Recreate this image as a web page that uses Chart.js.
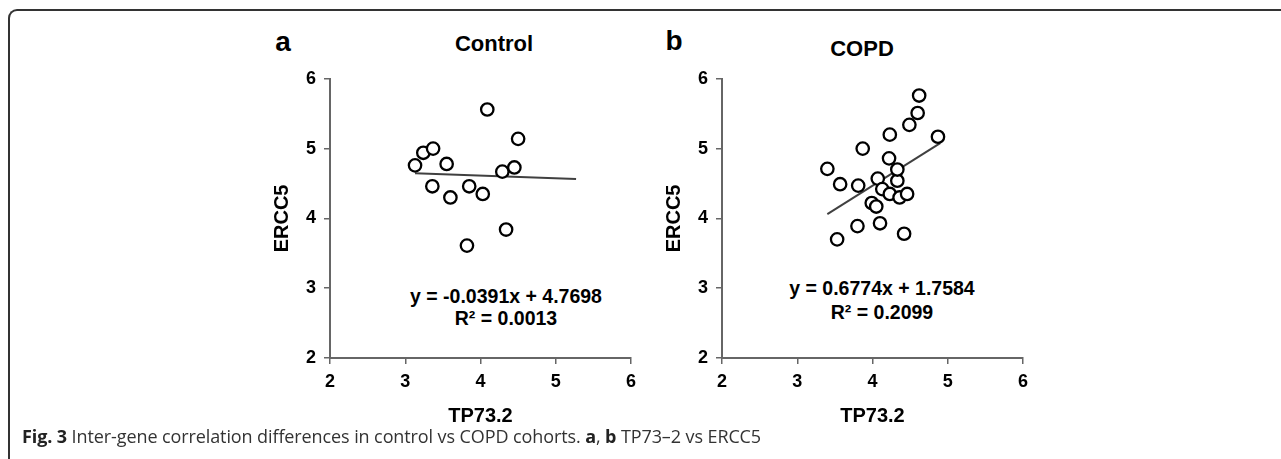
<!DOCTYPE html>
<html>
<head>
<meta charset="utf-8">
<script src="https://cdn.jsdelivr.net/npm/chart.js@4.4.1/dist/chart.umd.min.js"></script>
<style>
  html, body { margin: 0; padding: 0; background: #fff; }
  body { width: 1281px; height: 459px; position: relative; overflow: hidden; font-family: "Liberation Sans", Arial, sans-serif; }
  .frame { position: absolute; left: 8px; top: 9px; width: 1290px; height: 470px;
           border-top: 2px solid #333; border-left: 2px solid #333; border-top-left-radius: 9px; }
  canvas { position: absolute; }
  .t { position: absolute; transform: translate(-50%, -50%); white-space: nowrap; color: #000; font-weight: bold; }
  .letter { font-size: 28px; }
  .ptitle { font-size: 22px; }
  .eq { font-size: 19.5px; }
  .caption { position: absolute; left: 22px; top: 424px; font-family: "Open Sans", sans-serif; font-size: 18px; color: #333; white-space: nowrap; letter-spacing: -0.1px; }
  .caption b { color: #222; }
</style>
</head>
<body>
<div class="frame"></div>

<div class="t letter" style="left:283px; top:42px;">a</div>
<div class="t ptitle" style="left:494px; top:44px;">Control</div>
<div class="t letter" style="left:674px; top:41px;">b</div>
<div class="t ptitle" style="left:862px; top:49px;">COPD</div>

<div class="t eq" style="left:506px; top:296px;">y = -0.0391x + 4.7698</div>
<div class="t eq" style="left:506px; top:318px;">R² = 0.0013</div>
<div class="t eq" style="left:882px; top:288px;">y = 0.6774x + 1.7584</div>
<div class="t eq" style="left:882px; top:312px;">R² = 0.2099</div>

<canvas id="c1" width="420" height="370" style="left:230px; top:60px;"></canvas>
<canvas id="c2" width="420" height="370" style="left:622px; top:60px;"></canvas>

<div class="caption"><b>Fig. 3</b> Inter-gene correlation differences in control vs COPD cohorts. <b>a</b>, <b>b</b> TP73–2 vs ERCC5</div>

<script>
// ---- data ----
const axisTicks = [2, 3, 4, 5, 6];
const xAxisLabel = "TP73.2";
const yAxisLabel = "ERCC5";

const controlX = [3.13, 3.24, 3.37, 3.55, 3.36, 3.60, 3.85, 4.03, 3.82, 4.09, 4.29, 4.45, 4.50, 4.34];
const controlY = [4.76, 4.94, 5.00, 4.78, 4.46, 4.30, 4.46, 4.35, 3.61, 5.56, 4.67, 4.73, 5.14, 3.84];
const controlFitSlope = -0.0391;
const controlFitIntercept = 4.7698;
const controlFitRange = [3.13, 5.27];

const copdX = [3.40, 3.57, 3.81, 3.87, 3.53, 3.80, 4.10, 3.99, 4.05, 4.07, 4.13, 4.23, 4.33, 4.33, 4.22, 4.23, 4.36, 4.46, 4.42, 4.49, 4.60, 4.62, 4.87];
const copdY = [4.71, 4.49, 4.47, 5.00, 3.70, 3.89, 3.93, 4.22, 4.17, 4.57, 4.42, 4.35, 4.54, 4.70, 4.86, 5.20, 4.30, 4.35, 3.78, 5.34, 5.51, 5.76, 5.17];
const copdFitSlope = 0.6774;
const copdFitIntercept = 1.7584;
const copdFitRange = [3.40, 4.90];

// ---- chart builder ----
function makeChart(id, xs, ys, slope, intercept, range, padTop) {
  const pts = xs.map((x, i) => ({ x: x, y: ys[i] }));
  const fit = range.map(x => ({ x: x, y: slope * x + intercept }));
  const tickFont = { family: "Liberation Sans", size: 18, weight: "bold" };
  const titleFont = { family: "Liberation Sans", size: 20, weight: "bold", lineHeight: 1.2 };
  const gridCfg = { display: true, drawOnChartArea: false, drawTicks: true, tickLength: 6, color: "#666", lineWidth: 1.5 };
  const borderCfg = { display: true, color: "#666", width: 2 };
  return new Chart(document.getElementById(id), {
    type: "scatter",
    data: {
      datasets: [
        {
          type: "line",
          data: fit,
          borderColor: "#404040",
          borderWidth: 2,
          pointRadius: 0,
          showLine: true,
          fill: false,
          clip: false,
          order: 2
        },
        {
          data: pts,
          pointRadius: 6.2,
          pointBorderWidth: 2.3,
          pointBackgroundColor: "#ffffff",
          pointBorderColor: "#000000",
          showLine: false,
          clip: false,
          order: 1
        }
      ]
    },
    options: {
      responsive: false,
      devicePixelRatio: 1,
      animation: false,
      layout: { padding: { top: padTop, right: 19, left: 0, bottom: 0 } },
      plugins: { legend: { display: false }, tooltip: { enabled: false }, title: { display: false } },
      scales: {
        x: {
          type: "linear",
          min: 2, max: 6,
          afterBuildTicks: (s) => { s.ticks = axisTicks.map(v => ({ value: v })); },
          afterFit: (s) => { s.height = 72; },
          ticks: { color: "#000", font: tickFont, padding: 7, maxRotation: 0 },
          grid: gridCfg,
          border: borderCfg,
          title: { display: true, text: xAxisLabel, color: "#000", font: titleFont, padding: { top: 0, bottom: 2 } }
        },
        y: {
          type: "linear",
          min: 2, max: 6,
          afterBuildTicks: (s) => { s.ticks = axisTicks.map(v => ({ value: v })); },
          afterFit: (s) => { s.width = 100; },
          ticks: { color: "#000", font: tickFont, padding: 8 },
          grid: gridCfg,
          border: borderCfg,
          title: { display: true, text: yAxisLabel, color: "#000", font: titleFont, padding: { top: 40, bottom: 0 } }
        }
      }
    }
  });
}

makeChart("c1", controlX, controlY, controlFitSlope, controlFitIntercept, controlFitRange, 14);
makeChart("c2", copdX, copdY, copdFitSlope, copdFitIntercept, copdFitRange, 15);
</script>
</body>
</html>
